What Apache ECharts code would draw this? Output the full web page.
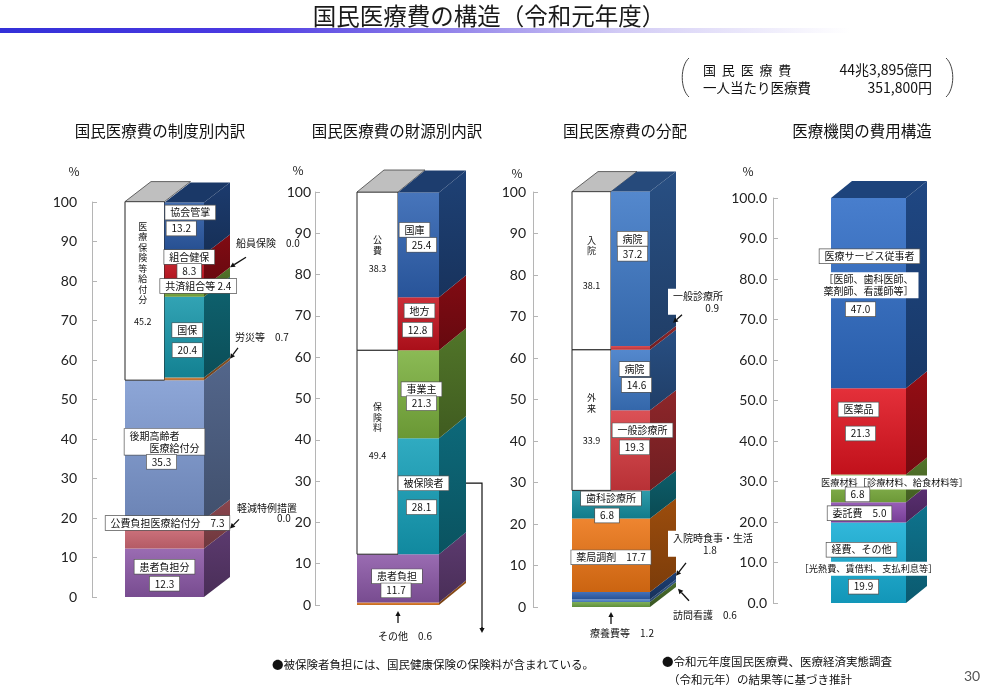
<!DOCTYPE html>
<html>
<head>
<meta charset="utf-8">
<title>国民医療費の構造</title>
<script src="https://cdn.jsdelivr.net/npm/echarts@6/dist/echarts.min.js"></script>
<style>
html, body { margin: 0; padding: 0; background: #fff; }
#main { width: 1000px; height: 689px; }
</style>
</head>
<body>
<div id="main"></div>
<script>
var FONT = '"Noto Sans CJK JP", "Noto Sans", sans-serif';

// ---- データ ----
var mainTitle = '国民医療費の構造（令和元年度）';
var totalCost = '44兆3,895億円';
var perCapita = '351,800円';

// 国民医療費の制度別内訳
var sysBaseNames = ['患者負担分', '軽減特例措置', '公費負担医療給付分', '後期高齢者医療給付分'];
var sysBaseVals = [12.3, 0.0, 7.3, 35.3];
var sysLeftNames = ['医療保険等給付分'];
var sysLeftVals = [45.2];
var sysRightNames = ['労災等', '国保', '共済組合等', '船員保険', '組合健保', '協会管掌'];
var sysRightVals = [0.7, 20.4, 2.4, 0.0, 8.3, 13.2];

// 国民医療費の財源別内訳
var srcBaseNames = ['その他', '患者負担'];
var srcBaseVals = [0.6, 11.7];
var srcLeftNames = ['保険料', '公費'];
var srcLeftVals = [49.4, 38.3];
var srcRightNames = ['被保険者', '事業主', '地方', '国庫'];
var srcRightVals = [28.1, 21.3, 12.8, 25.4];

// 国民医療費の分配
var disBaseNames = ['療養費等', '訪問看護', '入院時食事・生活', '薬局調剤', '歯科診療所'];
var disBaseVals = [1.2, 0.6, 1.8, 17.7, 6.8];
var disLeftNames = ['外来', '入院'];
var disLeftVals = [33.9, 38.1];
var disRightNames = ['一般診療所', '病院', '一般診療所', '病院'];
var disRightVals = [19.3, 14.6, 0.9, 37.2];

// 医療機関の費用構造
var costNames = ['経費、その他', '委託費', '医療材料', '医薬品', '医療サービス従事者'];
var costVals = [19.9, 5.0, 6.8, 21.3, 47.0];

var yMax = 100;
var yStep = 10;

// ---- ラベル配置 ----
function R(t, x, y, o) {
    var r = {t: t, x: x, y: y, box: true};
    for (var k in o || {}) r[k] = o[k];
    return r;
}
var X = {align: 'left', box: false};
var XB = {align: 'left', border: false};
var V = {box: false};
var VT = {box: false, fs: 9};

var sysLabels = [
    {rows: [R('{n}', 0, -6), R('{v}', 0, 11)]},
    {ext: 'side', arrow: [9, -9], rows: [R('{n}\n　　　　{v}', 7, -15, X)]},
    {rows: [R('{n}　{v}', 3, -11)]},
    {rows: [R('後期高齢者　　\n　　医療給付分', 0, -8), R('{v}', -3, 12)]},
    {rows: [R('{N}', -2, -28, VT), R('{v}', -2, 31, VT)]},
    {ext: 'side', arrow: [8, -11], rows: [R('{n}　{v}', 5, -22, X)]},
    {rows: [R('{n}', 3, -7), R('{v}', 3, 13)]},
    {rows: [R('{n} {v}', 14, -6)]},
    {ext: 'side', arrow: [16, -10], rows: [R('{n}　{v}', 6, -24, X)]},
    {rows: [R('{n}', 5, -14), R('{v}', 5, 0)]},
    {rows: [R('{n}', 6, -16), R('{v}', -3, 0)]}
];
var srcLabels = [
    {ext: 'below', arrow: [6, 18], rows: [R('{n}　{v}', 7, 31, V)]},
    {rows: [R('{n}', -1, -2), R('{v}', -2, 12)]},
    {rows: [R('{N}', 0, -35, VT), R('{v}', 0, 3, VT)]},
    {rows: [R('{N}', 0, -26, VT), R('{v}', 0, -3, VT)]},
    {rows: [R('{n}', 5, -13), R('{v}', 3, 11)], link: true},
    {rows: [R('{n}', 3, -5), R('{v}', 3, 9)]},
    {rows: [R('{n}', 1, -13), R('{v}', -1, 6)]},
    {rows: [R('{n}', -4, -15), R('{v}', 3, 0)]}
];
var disLabels = [
    {ext: 'below', arrow: [5, 17], rows: [R('{n}　{v}', 11, 26, V)]},
    {ext: 'side', tip: [2, 8], arrow: [11, 12], rows: [R('{n}　{v}', -5, 26, X)]},
    {ext: 'side', arrow: [10, -13], rows: [R('{n}\n　　　{v}', -8, -32, XB)]},
    {rows: [R('{n}　{v}', 0, 2)]},
    {rows: [R('{n}', 0, -6), R('{v}', -4, 11)]},
    {rows: [R('{N}', 0, -17, VT), R('{v}', 0, 21, VT)]},
    {rows: [R('{N}', 0, -25, VT), R('{v}', 0, 15, VT)]},
    {rows: [R('{n}', 12, -20), R('{v}', 4, -3)]},
    {rows: [R('{n}', 4, -11), R('{v}', 6, 5)]},
    {ext: 'side', tip: [-3, -5], arrow: [9, -8], rows: [R('{n}\n　　　 {v}', -5, -21, XB)]},
    {rows: [R('{n}', 2, -30), R('{v}', 2, -15)]}
];
var costLabels = [
    {rows: [R('{n}', -7, -13), R('［光熱費、賃借料、支払利息等］', 0, 6, {border: false, fs: 9.2}), R('{v}', -5, 24)]},
    {rows: [R('{n}　{v}', -9, 1)]},
    {rows: [R('{n}［診療材料、給食材料等］', 26, -6, {border: false, fs: 9.2}), R('{v}', -11, 6)]},
    {rows: [R('{n}', -10, -22), R('{v}', -8, 2)]},
    {rows: [R('{n}', 1, -37), R('［医師、歯科医師、\n薬剤師、看護師等］', 0, -8, {border: false}), R('{v}', -8, 16)]}
];

var charts = [
    {
        title: '国民医療費の制度別内訳', titleX: 160, pctX: 74, pctY: 171,
        axisX: 92, y0: 597, y100: 202, cx: 164.5, hw: 39.5, dx: 26, dy: -20, margin: 15, digits: 0,
        groups: [
            {col: 'full', names: sysBaseNames, vals: sysBaseVals, colors: ['#8c58a8', '#1c2a6e', '#d16a76', '#7d9ad2']},
            {col: 'left', names: sysLeftNames, vals: sysLeftVals, white: true},
            {col: 'right', names: sysRightNames, vals: sysRightVals, colors: ['#cf7c36', '#1696aa', '#7fb241', '#888888', '#c4111d', '#2a5aa6']}
        ],
        labels: sysLabels
    },
    {
        title: '国民医療費の財源別内訳', titleX: 397, pctX: 298, pctY: 170,
        axisX: 315, y0: 605, y100: 192, cx: 398, hw: 41, dx: 27, dy: -22, margin: 4, digits: 0,
        groups: [
            {col: 'full', names: srcBaseNames, vals: srcBaseVals, colors: ['#e27a22', '#8c58a8']},
            {col: 'left', names: srcLeftNames, vals: srcLeftVals, white: true},
            {col: 'right', names: srcRightNames, vals: srcRightVals, colors: ['#149fb9', '#7bb13e', '#c4111d', '#2e62b2']}
        ],
        labels: srcLabels
    },
    {
        title: '国民医療費の分配', titleX: 625, pctX: 517, pctY: 173,
        axisX: 533, y0: 607, y100: 192, cx: 611, hw: 39, dx: 26, dy: -20, margin: 7, digits: 0,
        groups: [
            {col: 'full', names: disBaseNames, vals: disBaseVals, colors: ['#6ea544', '#4f86cc', '#2c5eae', '#ec7414', '#138fa0']},
            {col: 'left', names: disLeftNames, vals: disLeftVals, white: true},
            {col: 'right', names: disRightNames, vals: disRightVals, colors: ['#d6393f', '#3d78c6', '#d6393f', '#3d78c6']}
        ],
        labels: disLabels
    },
    {
        title: '医療機関の費用構造', titleX: 862, pctX: 748, pctY: 171,
        axisX: 773, y0: 603, y100: 198, cx: 868.5, hw: 37.5, dx: 21, dy: -17, margin: 6, digits: 1,
        groups: [
            {col: 'full', names: costNames, vals: costVals, colors: ['#15aed6', '#8a48ae', '#7fb241', '#e0141f', '#2f6cc6']}
        ],
        labels: costLabels
    }
];

// ---- 積み上げ ----
function buildSegs(groups) {
    var segs = [];
    var baseTop = 0;
    var hasCols = groups.some(function (g) { return g.col !== 'full'; });
    groups.forEach(function (g) {
        var acc = g.col === 'full' ? 0 : baseTop;
        g.vals.forEach(function (v, i) {
            segs.push({
                col: g.col, name: g.names[i], val: v, base: acc, top: acc + v,
                color: g.white ? '#ffffff' : g.colors[i], white: !!g.white,
                isTop: i === g.vals.length - 1 && (g.col !== 'full' || !hasCols)
            });
            acc += v;
        });
        if (g.col === 'full') baseTop = acc;
    });
    return segs;
}

function shade(hex, k) {
    var n = parseInt(hex.slice(1), 16);
    var c = [(n >> 16) & 255, (n >> 8) & 255, n & 255].map(function (x) {
        var y = k >= 1 ? x + (255 - x) * (k - 1) : x * k;
        return Math.max(0, Math.min(255, Math.round(y)));
    });
    return 'rgb(' + c.join(',') + ')';
}

function colX(ch, col, cx) {
    if (col === 'left') return [cx - ch.hw, cx];
    if (col === 'right') return [cx, cx + ch.hw];
    return [cx - ch.hw, cx + ch.hw];
}

function faceRender(ch) {
    return function (params, api) {
        var s = ch.segs[params.dataIndex];
        var b = api.value(1), t = api.value(2);
        if (t - b <= 0) return;
        var cx = api.coord([0, 0])[0];
        var xs = colX(ch, s.col, cx);
        var yb = api.coord([0, b])[1], yt = api.coord([0, t])[1];
        var dx = ch.dx, dy = ch.dy;
        var kids = [];
        if (s.white) {
            kids.push({type: 'rect', shape: {x: xs[0], y: yt, width: xs[1] - xs[0], height: yb - yt},
                style: {fill: '#fff', stroke: '#222', lineWidth: 1}});
        } else {
            kids.push({type: 'rect', shape: {x: xs[0], y: yt, width: xs[1] - xs[0], height: yb - yt},
                style: {fill: new echarts.graphic.LinearGradient(0, 0, 0, 1, [
                    {offset: 0, color: shade(s.color, 1.12)},
                    {offset: 1, color: shade(s.color, 0.86)}
                ])}});
        }
        if (s.col !== 'left') {
            kids.push({type: 'polygon', shape: {points: [[xs[1], yb], [xs[1] + dx, yb + dy], [xs[1] + dx, yt + dy], [xs[1], yt]]},
                style: {fill: new echarts.graphic.LinearGradient(0, 0, 0, 1, [
                    {offset: 0, color: shade(s.color, 0.66)},
                    {offset: 1, color: shade(s.color, 0.52)}
                ])}});
        }
        if (s.isTop) {
            kids.push({type: 'polygon', shape: {points: [[xs[0], yt], [xs[0] + dx, yt + dy], [xs[1] + dx, yt + dy], [xs[1], yt]]},
                style: s.white ? {fill: '#bfbfbf', stroke: '#444', lineWidth: 0.8} : {fill: shade(s.color, 0.62)}});
        }
        return {type: 'group', children: kids};
    };
}

function arrow(tx, ty, sx, sy) {
    var ang = Math.atan2(ty - sy, tx - sx), len = 5, w = 2.6;
    var bx = tx - len * Math.cos(ang), by = ty - len * Math.sin(ang);
    var px = -Math.sin(ang) * w, py = Math.cos(ang) * w;
    return [
        {type: 'line', shape: {x1: sx, y1: sy, x2: bx, y2: by}, style: {stroke: '#111', lineWidth: 1.3}},
        {type: 'polygon', shape: {points: [[tx, ty], [bx + px, by + py], [bx - px, by - py]]}, style: {fill: '#111'}}
    ];
}

function textEl(r, s, x, y) {
    var t = r.t.replace('{n}', s.name).replace('{v}', s.val.toFixed(1)).replace('{N}', s.name.split('').join('\n'));
    var st = {
        text: t, x: x, y: y, align: r.align || 'center', verticalAlign: 'middle',
        fill: '#111', fontSize: r.fs || 10, fontFamily: FONT, lineHeight: r.box ? 12 : 10.5
    };
    if (r.box) {
        st.backgroundColor = '#fff';
        st.padding = [1, 5];
        if (r.border !== false) {
            st.borderColor = '#555';
            st.borderWidth = 0.7;
        }
    }
    return {type: 'text', style: st};
}

function labelRender(ch) {
    return function (params, api) {
        var s = ch.segs[params.dataIndex];
        var L = ch.labels[params.dataIndex];
        if (!L) return;
        var b = api.value(1), t = api.value(2);
        var cx = api.coord([0, 0])[0];
        var xs = colX(ch, s.col, cx);
        var yb = api.coord([0, b])[1], yt = api.coord([0, t])[1];
        var ax, ay, kids = [], marks = [];
        if (L.ext === 'side') {
            ax = xs[1] + ch.dx + (L.tip ? L.tip[0] : 0);
            ay = api.coord([0, (b + t) / 2])[1] + ch.dy + (L.tip ? L.tip[1] : 0);
            marks = arrow(ax, ay, ax + L.arrow[0], ay + L.arrow[1]);
        } else if (L.ext === 'below') {
            ax = cx;
            ay = api.coord([0, 0])[1];
            marks = arrow(ax, ay + L.arrow[0], ax, ay + L.arrow[1]);
        } else {
            ax = (xs[0] + xs[1]) / 2;
            ay = (yb + yt) / 2;
        }
        if (L.link) {
            var ly = ay + L.rows[0].y, lx = xs[1] + ch.dx, ex = lx + 16;
            var ey = api.coord([0, 0])[1] + 28;
            marks.push({type: 'polyline', shape: {points: [[lx, ly], [ex, ly], [ex, ey - 5]]}, style: {stroke: '#111', lineWidth: 1.2, fill: null}});
            marks = marks.concat(arrow(ex, ey, ex, ey - 6));
        }
        L.rows.forEach(function (r) { kids.push(textEl(r, s, ax + r.x, ay + r.y)); });
        return {type: 'group', children: kids.concat(marks)};
    };
}

// ---- チャート ----
var grids = [], xAxes = [], yAxes = [], series = [];
var graphics = [
    {type: 'rect', left: 0, top: 28, shape: {width: 1000, height: 5}, style: {
        fill: new echarts.graphic.LinearGradient(0, 0, 1, 0, [
            {offset: 0, color: '#3330d8'}, {offset: 0.25, color: '#4c3ae2'},
            {offset: 0.45, color: '#9384ea'}, {offset: 0.62, color: '#d2cbf5'}, {offset: 0.85, color: '#ffffff'}
        ])}},
    {type: 'text', x: 489, y: 16, style: {text: mainTitle, align: 'center', verticalAlign: 'middle', fontSize: 23.5, fontFamily: FONT, fill: '#1a1a1a'}},
    {type: 'bezierCurve', shape: {x1: 689, y1: 58, cpx1: 680, cpy1: 66, cpx2: 680, cpy2: 89, x2: 689, y2: 97}, style: {stroke: '#444', lineWidth: 1, fill: null}},
    {type: 'bezierCurve', shape: {x1: 946, y1: 58, cpx1: 955, cpy1: 66, cpx2: 955, cpy2: 89, x2: 946, y2: 97}, style: {stroke: '#444', lineWidth: 1, fill: null}},
    {type: 'text', x: 703, y: 70, style: {text: '国  民  医  療  費', verticalAlign: 'middle', fontSize: 13, fontFamily: FONT, fill: '#111'}},
    {type: 'text', x: 932, y: 70, style: {text: totalCost, align: 'right', verticalAlign: 'middle', fontSize: 14, fontFamily: FONT, fill: '#111'}},
    {type: 'text', x: 703, y: 88, style: {text: '一人当たり医療費', verticalAlign: 'middle', fontSize: 13.5, fontFamily: FONT, fill: '#111'}},
    {type: 'text', x: 932, y: 88, style: {text: perCapita, align: 'right', verticalAlign: 'middle', fontSize: 14, fontFamily: FONT, fill: '#111'}},
    {type: 'text', x: 272, y: 665, style: {text: '●被保険者負担には、国民健康保険の保険料が含まれている。', verticalAlign: 'middle', fontSize: 11.5, fontFamily: FONT, fill: '#111'}},
    {type: 'text', x: 662, y: 662, style: {text: '●令和元年度国民医療費、医療経済実態調査', verticalAlign: 'middle', fontSize: 11.5, fontFamily: FONT, fill: '#111'}},
    {type: 'text', x: 668, y: 680, style: {text: '（令和元年）の結果等に基づき推計', verticalAlign: 'middle', fontSize: 11.5, fontFamily: FONT, fill: '#111'}},
    {type: 'text', x: 972, y: 676, style: {text: '30', align: 'center', verticalAlign: 'middle', fontSize: 14, fontFamily: 'Lato, sans-serif', fill: '#555'}}
];

charts.forEach(function (ch, i) {
    ch.segs = buildSegs(ch.groups);
    grids.push({left: ch.axisX, top: ch.y100, width: 2 * (ch.cx - ch.axisX), height: ch.y0 - ch.y100});
    xAxes.push({gridIndex: i, type: 'category', data: [''], show: false});
    yAxes.push({
        gridIndex: i, type: 'value', min: 0, max: yMax, interval: yStep,
        axisLine: {show: true, lineStyle: {color: '#b5b5b5'}},
        axisTick: {show: true, inside: true, length: 5, lineStyle: {color: '#b5b5b5'}},
        splitLine: {show: false},
        axisLabel: {margin: ch.margin, fontSize: 14, color: '#222', fontFamily: 'Lato, sans-serif',
            formatter: function (v) { return v.toFixed(ch.digits); }}
    });
    var data = ch.segs.map(function (s) { return [0, s.base, s.top]; });
    series.push({
        type: 'custom', xAxisIndex: i, yAxisIndex: i, z: 2, clip: false, silent: true,
        renderItem: faceRender(ch), encode: {x: 0, y: [1, 2]}, data: data
    });
    series.push({
        type: 'custom', xAxisIndex: i, yAxisIndex: i, z: 3, clip: false, silent: true,
        renderItem: labelRender(ch), encode: {x: 0, y: [1, 2]}, data: data
    });
    graphics.push({type: 'text', x: ch.titleX, y: 131, style: {text: ch.title, align: 'center', verticalAlign: 'middle', fontSize: 15.5, fontFamily: FONT, fill: '#111'}});
    graphics.push({type: 'text', x: ch.pctX, y: ch.pctY, style: {text: '%', align: 'center', verticalAlign: 'middle', fontSize: 12, fontFamily: FONT, fill: '#222'}});
});

var myChart = echarts.init(document.getElementById('main'));
myChart.setOption({
    animation: false,
    backgroundColor: '#fff',
    grid: grids,
    xAxis: xAxes,
    yAxis: yAxes,
    series: series,
    graphic: graphics
});
</script>
</body>
</html>
